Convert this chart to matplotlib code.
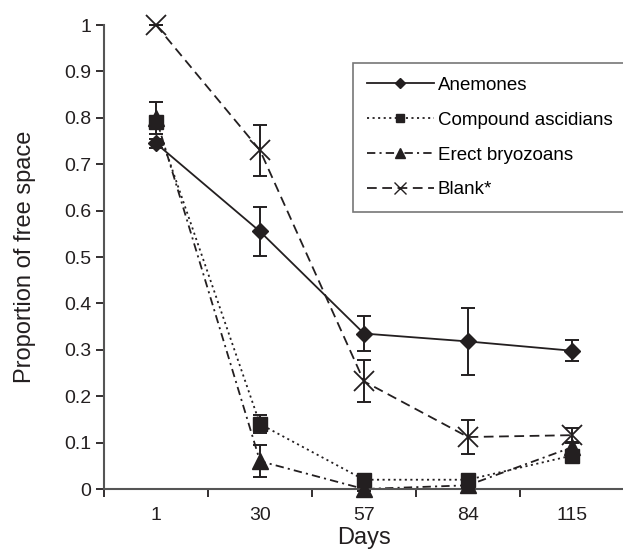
import matplotlib
matplotlib.use("Agg")
import matplotlib.pyplot as plt
from matplotlib.lines import Line2D

plt.rcParams['font.family'] = ['Liberation Sans', 'DejaVu Sans']
plt.rcParams['lines.scale_dashes'] = False

# Data
days = ['1', '30', '57', '84', '115']

anemones = [0.745, 0.555, 0.335, 0.318, 0.298]
anemones_err = [0.01, 0.053, 0.037, 0.073, 0.023]

ascidians = [0.790, 0.140, 0.020, 0.020, 0.072]
ascidians_err = [0.01, 0.02, 0.005, 0.005, 0.01]

bryozoans = [0.800, 0.060, 0.000, 0.008, 0.090]
bryozoans_err = [0.035, 0.035, 0.005, 0.005, 0.01]

blank = [1.000, 0.730, 0.232, 0.112, 0.116]
blank_err = [0.0, 0.055, 0.045, 0.036, 0.015]

ink = '#231f20'

fig = plt.figure(figsize=(6.23, 5.54), dpi=100)
ax = fig.add_axes([104 / 623, 1 - 489 / 554, 520 / 623, 464 / 554])

x = list(range(len(days)))

series = [
    (anemones, anemones_err, 'Anemones', '-', 'D', 8.5),
    (ascidians, ascidians_err, 'Compound ascidians', (0, (1.5, 2.5)), 's', 10),
    (bryozoans, bryozoans_err, 'Erect bryozoans', (0, (6, 3, 1.5, 3)), '^', 12),
    (blank, blank_err, 'Blank*', (0, (7, 4)), 'x', 15),
]

handles = []
for vals, err, name, ls, mk, ms in series:
    ax.plot(x, vals, color=ink, lw=1.3, linestyle=ls, zorder=2, clip_on=False)
    ax.errorbar(x, vals, yerr=err, fmt='none', ecolor=ink, elinewidth=1.4,
                capsize=5, capthick=1.4, zorder=3, clip_on=False)
    mew = 1.3 if mk == 'x' else 1
    ax.plot(x, vals, linestyle='none', marker=mk, ms=ms, color=ink,
            mew=mew, zorder=4, clip_on=False)
    handles.append(Line2D([], [], color=ink, lw=1.3, linestyle=ls, marker=mk,
                          ms=ms * 0.6, mew=1))

ax.set_xlim(-0.5, len(days) - 0.5)
ax.set_ylim(0, 1)
ax.set_yticks([i / 10 for i in range(11)])
ax.set_yticklabels(['0'] + ['%.1f' % (i / 10) for i in range(1, 10)] + ['1'])
ax.set_xticks(x)
ax.set_xticklabels(days)
ax.set_xticks([i - 0.5 for i in range(len(days) + 1)], minor=True)
ax.tick_params(axis='x', which='major', length=0, pad=13, labelsize=14, colors=ink)
ax.tick_params(axis='x', which='minor', length=6, width=1.3, color=ink)
ax.tick_params(axis='y', length=6, width=1.3, labelsize=14, colors=ink, pad=3)

for s in ['top', 'right']:
    ax.spines[s].set_visible(False)
for s in ['left', 'bottom']:
    ax.spines[s].set_color('#555555')
    ax.spines[s].set_linewidth(1.5)

ax.set_xlabel('Days', fontsize=17, color=ink, labelpad=2)
ax.set_ylabel('Proportion of free space', fontsize=17, color=ink, labelpad=20)

leg = ax.legend(handles, [s[2] for s in series], loc='upper left',
                bbox_to_anchor=(353 / 623, 1 - 63 / 554), bbox_transform=fig.transFigure,
                fontsize=13.5, frameon=True, fancybox=False, handlelength=3.6,
                handletextpad=0.2, labelspacing=0.95, borderpad=0.72, borderaxespad=0)
leg.get_frame().set_edgecolor('#555555')
leg.get_frame().set_linewidth(1.2)

fig.savefig('out.png', dpi=100)
